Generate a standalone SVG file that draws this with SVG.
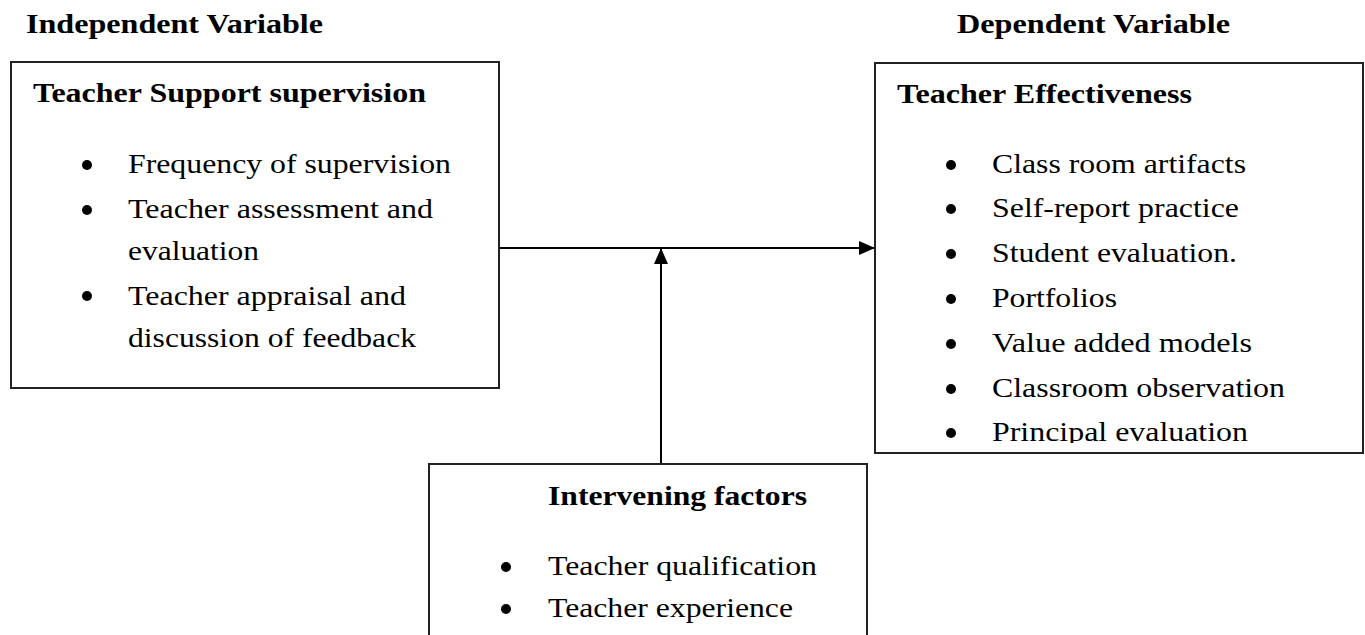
<svg xmlns="http://www.w3.org/2000/svg" width="1365" height="635" viewBox="0 0 1365 635" font-family="Liberation Serif">
<style>
  .box{fill:#fff;stroke:#222;stroke-width:2}
  .h{font-weight:bold;font-size:28px;fill:#000}
  .t{font-size:28px;fill:#000}
  .b{fill:#000}
  .conn{stroke:#000;stroke-width:2;fill:none}
</style>
<defs>
  <marker id="arr" viewBox="0 0 16 16" refX="16" refY="8" markerWidth="16" markerHeight="16" markerUnits="userSpaceOnUse" orient="auto">
    <path d="M0,1 L16,8 L0,15 Z" fill="#000"/>
  </marker>
  <clipPath id="clipR"><rect x="875" y="63" width="488" height="380"/></clipPath>
</defs>
<rect width="1365" height="635" fill="#fff"/>
<g id="labels">
  <text class="h" x="26" y="33" textLength="297" lengthAdjust="spacingAndGlyphs">Independent Variable</text>
  <text class="h" x="957" y="33" textLength="273" lengthAdjust="spacingAndGlyphs">Dependent Variable</text>
</g>
<g id="connectors">
  <line class="conn" x1="499" y1="248" x2="875" y2="248" marker-end="url(#arr)"/>
  <line class="conn" x1="661" y1="464" x2="661" y2="248" marker-end="url(#arr)"/>
</g>
<g id="independent">
  <rect class="box" x="11" y="62" width="488" height="326"/>
  <text class="h" x="33" y="102" textLength="393" lengthAdjust="spacingAndGlyphs">Teacher Support supervision</text>
  <circle class="b" cx="87" cy="165" r="5"/>
  <circle class="b" cx="87" cy="210" r="5"/>
  <circle class="b" cx="87" cy="296" r="5"/>
  <text class="t" x="128" y="173" textLength="323" lengthAdjust="spacingAndGlyphs">Frequency of supervision</text>
  <text class="t" x="128" y="218" textLength="305" lengthAdjust="spacingAndGlyphs">Teacher assessment and</text>
  <text class="t" x="128" y="260" textLength="131" lengthAdjust="spacingAndGlyphs">evaluation</text>
  <text class="t" x="128" y="305" textLength="278" lengthAdjust="spacingAndGlyphs">Teacher appraisal and</text>
  <text class="t" x="128" y="347" textLength="288" lengthAdjust="spacingAndGlyphs">discussion of feedback</text>
</g>
<g id="dependent">
  <rect class="box" x="875" y="63" width="488" height="390"/>
  <text class="h" x="897" y="103" textLength="295" lengthAdjust="spacingAndGlyphs">Teacher Effectiveness</text>
  <g clip-path="url(#clipR)">
    <circle class="b" cx="951" cy="165" r="5"/>
    <circle class="b" cx="951" cy="209" r="5"/>
    <circle class="b" cx="951" cy="254" r="5"/>
    <circle class="b" cx="951" cy="299" r="5"/>
    <circle class="b" cx="951" cy="344" r="5"/>
    <circle class="b" cx="951" cy="389" r="5"/>
    <circle class="b" cx="951" cy="433" r="5"/>
    <text class="t" x="992" y="173" textLength="254" lengthAdjust="spacingAndGlyphs">Class room artifacts</text>
    <text class="t" x="992" y="217" textLength="247" lengthAdjust="spacingAndGlyphs">Self-report practice</text>
    <text class="t" x="992" y="262" textLength="245" lengthAdjust="spacingAndGlyphs">Student evaluation.</text>
    <text class="t" x="992" y="307" textLength="125" lengthAdjust="spacingAndGlyphs">Portfolios</text>
    <text class="t" x="992" y="352" textLength="260" lengthAdjust="spacingAndGlyphs">Value added models</text>
    <text class="t" x="992" y="397" textLength="293" lengthAdjust="spacingAndGlyphs">Classroom observation</text>
    <text class="t" x="992" y="441" textLength="256" lengthAdjust="spacingAndGlyphs">Principal evaluation</text>
  </g>
</g>
<g id="intervening">
  <rect class="box" x="429" y="464" width="438" height="200"/>
  <text class="h" x="548" y="505" textLength="259" lengthAdjust="spacingAndGlyphs">Intervening factors</text>
  <circle class="b" cx="506" cy="567" r="5"/>
  <circle class="b" cx="506" cy="609" r="5"/>
  <text class="t" x="548" y="575" textLength="269" lengthAdjust="spacingAndGlyphs">Teacher qualification</text>
  <text class="t" x="548" y="617" textLength="245" lengthAdjust="spacingAndGlyphs">Teacher experience</text>
</g>
</svg>
